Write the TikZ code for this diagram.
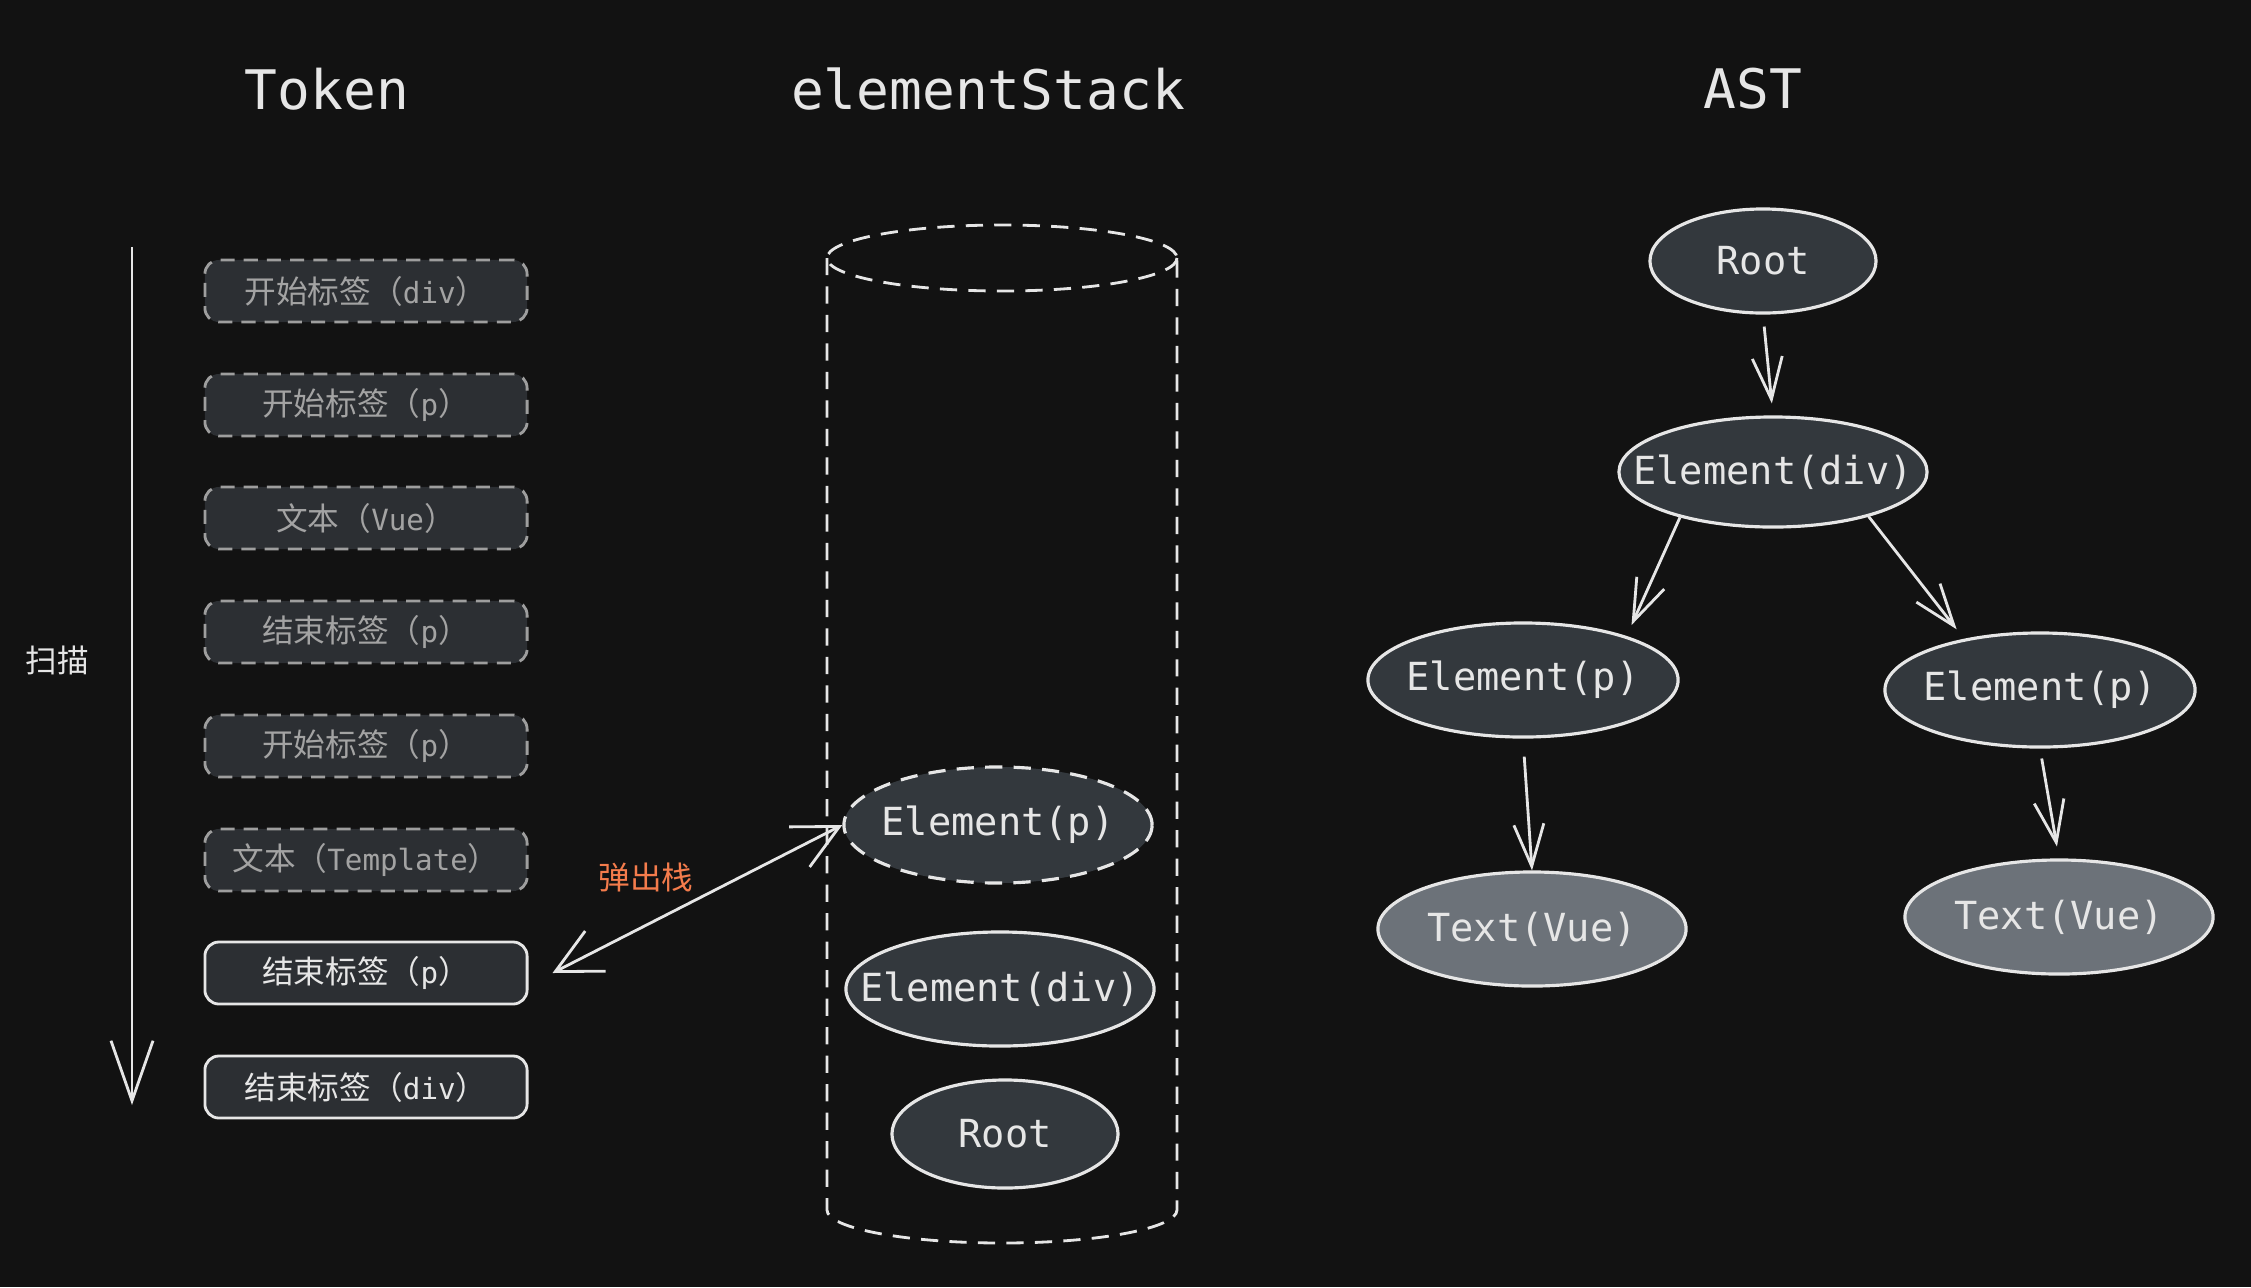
\documentclass[tikz,border=0pt]{standalone}
\usepackage{fontspec}
\setmonofont{DejaVu Sans Mono}
\newfontfamily\cjk{Noto Sans CJK SC}
\usetikzlibrary{arrows.meta,shapes.geometric}
\definecolor{bg}{HTML}{121212}
\definecolor{boxfill}{HTML}{2C2F33}
\definecolor{ellfill}{HTML}{33383D}
\definecolor{txtfill}{HTML}{6C7279}
\definecolor{tokgray}{HTML}{A3A3A3}
\definecolor{tokline}{HTML}{9E9E9E}
\definecolor{ink}{HTML}{E6E6E6}
\definecolor{orangetxt}{HTML}{F47C4C}
\newcommand{\tk}[2]{{\cjk #1（}{\ttfamily\fontsize{8.3}{10}\selectfont #2}{\cjk ）}}
\newcommand{\el}[1]{\makebox[0pt]{#1}}
\tikzset{
  tok/.style={draw=tokline, dash pattern=on 4pt off 2.6pt, line width=0.8pt, fill=boxfill,
    rounded corners=0.14cm, minimum width=3.22cm, minimum height=0.62cm, text=tokgray,
    inner sep=0pt, font=\cjk\fontsize{9}{11}\selectfont},
  toksolid/.style={tok, draw=ink, solid, text=ink},
  ell/.style={ellipse, draw=ink, fill=ellfill, line width=0.9pt, inner sep=0pt,
    text=ink, font=\ttfamily\fontsize{11}{13}\selectfont},
  ttl/.style={text=ink, font=\ttfamily\fontsize{15.5}{18}\selectfont},
  conn/.style={draw=ink, line width=0.8pt, -{Straight Barb[length=0.42cm,width=0.3cm,line width=0.8pt]}},
  dbl/.style={draw=ink, line width=0.8pt, {Straight Barb[length=0.45cm,width=0.45cm,line width=0.8pt]}-{Straight Barb[length=0.45cm,width=0.45cm,line width=0.8pt]}},
  cyl/.style={draw=ink, line width=0.8pt, dash pattern=on 4.9pt off 3.2pt},
}
\begin{document}
\begin{tikzpicture}[x=0.01cm,y=-0.01cm]
\fill[bg] (0,0) rectangle (2251,1287);
\useasboundingbox (0,0) rectangle (2251,1287);

% titles
\node[ttl] (tt) at (327,89) {Token};
\node[ttl] (ts) at (988,89) {elementStack};
\node[ttl] (ta) at (1753,89) {AST};

% scan arrow
\coordinate (s1) at (132,247);
\coordinate (s2) at (132,1105);
\draw[draw=ink, line width=0.8pt, -{Straight Barb[length=0.6cm,width=0.42cm,line width=0.8pt]}] (s1) -- (s2);
\node[text=ink, font=\cjk\fontsize{9}{11}\selectfont] (scan) at (57,660) {扫描};

% tokens
\node[tok] (t1) at (366,291) {\tk{开始标签}{div}};
\node[tok] (t2) at (366,405) {\tk{开始标签}{p}};
\node[tok] (t3) at (366,518) {\tk{文本}{Vue}};
\node[tok] (t4) at (366,632) {\tk{结束标签}{p}};
\node[tok] (t5) at (366,746) {\tk{开始标签}{p}};
\node[tok] (t6) at (366,860) {\tk{文本}{Template}};
\node[toksolid] (t7) at (366,973) {\tk{结束标签}{p}};
\node[toksolid] (t8) at (366,1087) {\tk{结束标签}{div}};

% cylinder
\draw[cyl] (1002,258) ellipse [x radius=175, y radius=33];
\draw[cyl] (827,258) -- (827,1210) arc[start angle=180, end angle=360, x radius=175, y radius=-33] -- (1177,258);

% stack
\node[ell, dash pattern=on 4.9pt off 3.2pt, minimum width=3.08cm, minimum height=1.16cm] (sp) at (998,825) {\el{Element(p)}};
\node[ell, minimum width=3.08cm, minimum height=1.14cm] (sdiv) at (1000,989) {\el{Element(div)}};
\node[ell, minimum width=2.26cm, minimum height=1.08cm] (sroot) at (1005,1134) {\el{Root}};

\draw[dbl] ([xshift=0.24cm]t7.east) -- (sp.west);
\node[text=orangetxt, font=\cjk\fontsize{9}{11}\selectfont] (pop) at (646,877) {弹出栈};

% AST
\node[ell, minimum width=2.26cm, minimum height=1.04cm] (r) at (1763,261) {\el{Root}};
\node[ell, minimum width=3.08cm, minimum height=1.10cm] (d) at (1773,472) {\el{Element(div)}};
\node[ell, minimum width=3.1cm, minimum height=1.14cm] (pl) at (1523,680) {\el{Element(p)}};
\node[ell, minimum width=3.1cm, minimum height=1.14cm] (pr) at (2040,690) {\el{Element(p)}};
\node[ell, fill=txtfill, minimum width=3.08cm, minimum height=1.14cm] (tl) at (1532,929) {\el{Text(Vue)}};
\node[ell, fill=txtfill, minimum width=3.08cm, minimum height=1.14cm] (tr) at (2059,917) {\el{Text(Vue)}};

\draw[conn, shorten <=0.12cm, shorten >=0.12cm] (r.south) -- (d.north);
\draw[conn, shorten >=0.12cm] (d.206) -- (pl.23);
\draw[conn, shorten >=0.12cm] (d.335) -- (pr.146);
\draw[conn, shorten <=0.18cm] (pl.south) -- (tl.north);
\draw[conn, shorten <=0.1cm, shorten >=0.12cm] (pr.south) -- (tr.north);
\end{tikzpicture}
\end{document}
